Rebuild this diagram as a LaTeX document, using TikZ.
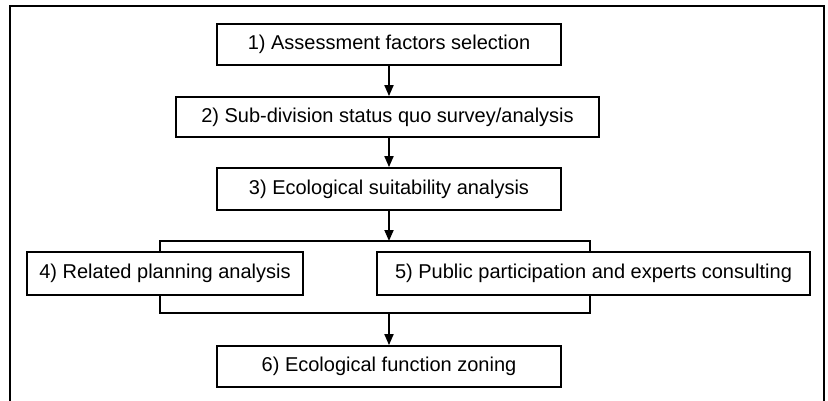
\documentclass[tikz,border=0pt]{standalone}
\usepackage{fontspec}
\setmainfont{Liberation Sans}
\usetikzlibrary{arrows.meta}
\begin{document}
\begin{tikzpicture}[x=1pt,y=-1pt,
  stepbox/.style={draw=black,line width=1.8pt,rectangle,inner sep=0pt,
    font=\fontsize{20}{24}\selectfont,text=black},
  link/.style={line width=1.8pt,draw=black},
  arr/.style={link,-{Triangle[width=9pt,length=11pt]}}]
\useasboundingbox (0,0) rectangle (828,400);
\draw[line width=1.8pt] (10,6) rectangle (824,405);
\node[stepbox,minimum width=344pt,minimum height=41pt] (b1) at (389,44.5) {1) Assessment factors selection};
\node[stepbox,minimum width=423pt,minimum height=40pt] (b2) at (387.5,117) {2) Sub-division status quo survey/analysis};
\node[stepbox,minimum width=344pt,minimum height=42pt] (b3) at (389,189) {3) Ecological suitability analysis};
\node[stepbox,minimum width=276pt,minimum height=43pt] (b4) at (165,273.5) {4) Related planning analysis};
\node[stepbox,minimum width=433pt,minimum height=43pt] (b5) at (593.5,273.5) {5) Public participation and experts consulting};
\node[stepbox,minimum width=344pt,minimum height=41pt] (b6) at (389,366.5) {6) Ecological function zoning};
\coordinate (jt) at (389,241);
\coordinate (jb) at (389,313);
\coordinate (tl) at (160,241);
\coordinate (tr) at (590,241);
\coordinate (bl) at (160,313);
\coordinate (br) at (590,313);
\draw[arr] (b1.south) -- (b1.south |- b2.north);
\draw[arr] (b2.south -| b1.south) -- (b1.south |- b3.north);
\draw[arr] (b3.south) -- (jt);
\draw[link] (tl |- b4.north) -- (tl) -- (tr) -- (tr |- b5.north);
\draw[link] (bl |- b4.south) -- (bl) -- (br) -- (br |- b5.south);
\draw[arr] (jb) -- (b6.north);
\end{tikzpicture}
\end{document}
